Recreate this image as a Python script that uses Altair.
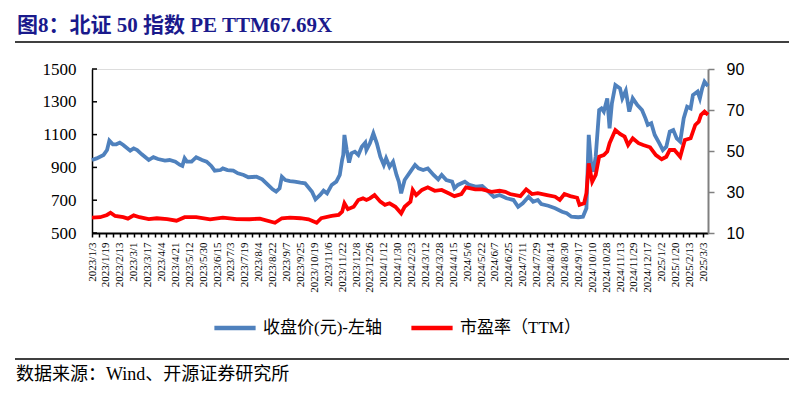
import json
import altair as alt
import pandas as pd

# ---- data (x = trading-day index since 2023/1/3) ----
close_idx = [0,4,10,13,15,18,21,24,27,33,36,39,43,49,53,57,63,67,72,76,78,80,82,86,90,95,99,103,106,111,113,117,122,126,131,135,142,147,152,156,159,162,164,167,171,175,180,184,190,193,197,200,203,207,211,214,216,217,218,220,222,224,227,230,233,236,237,240,243,246,249,252,254,257,260,263,265,267,270,275,279,282,286,290,295,299,302,306,311,313,316,322,326,332,337,341,347,352,358,364,368,372,377,381,385,388,394,400,406,410,414,420,424,427,429,431,433,435,438,440,442,445,447,449,452,456,458,461,464,467,471,475,478,480,483,486,490,493,496,499,502,505,508,511,514,517,519,523,525,527,529,532]
close_vals = [945,955,976,1006,1063,1041,1041,1051,1037,1002,1016,1006,980,945,962,951,941,945,935,915,909,955,935,935,962,945,935,909,880,884,894,884,880,864,854,840,843,827,793,766,752,772,843,823,817,813,807,803,752,705,732,758,742,793,813,854,945,976,1098,1006,929,986,996,976,1026,1051,1006,1047,1108,1047,965,915,955,904,935,854,813,742,823,874,915,894,884,894,854,827,854,823,813,772,793,813,793,782,787,762,721,732,712,701,660,681,721,691,701,677,666,651,630,620,599,596,599,651,1098,925,874,965,1250,1260,1240,1321,1138,1291,1402,1382,1321,1368,1240,1321,1280,1250,1199,1159,1169,1098,1047,1006,1026,1118,1128,1077,1057,1199,1270,1260,1341,1362,1321,1382,1423,1396]

pe_idx = [0,7,13,16,20,27,31,36,41,49,56,65,73,80,90,102,113,125,136,145,158,164,171,180,187,194,198,207,213,216,218,221,226,230,234,237,240,244,249,253,257,262,267,270,275,277,280,285,290,296,302,308,313,319,323,331,337,345,352,357,361,370,375,380,385,393,400,404,408,413,419,421,425,427,429,432,435,438,442,445,447,452,456,460,463,467,472,476,482,487,492,496,499,503,508,512,517,521,524,526,529,532]
pe_vals = [17.5,17.7,18.8,19.9,18.3,17.7,17.0,18.6,17.7,16.8,17.2,16.8,16.0,17.7,17.7,16.7,17.5,16.8,16.7,17.0,15.0,17.2,17.5,17.2,16.7,15.0,17.2,18.3,18.8,20.4,24.5,21.6,22.8,26.1,26.9,26.1,26.9,28.5,25.3,23.7,24.5,22.8,19.6,22.8,25.3,31.0,28.5,31.0,32.3,30.6,31.0,29.4,28.0,29.0,32.3,31.3,31.3,30.1,30.6,30.1,29.0,28.0,31.3,29.0,29.4,28.5,27.7,26.1,29.0,28.0,27.2,23.7,24.5,29.4,44.0,35.0,38.3,47.2,48.0,49.7,53.8,60.2,58.3,57.0,52.9,56.2,53.8,52.9,51.8,48.0,46.0,47.2,50.5,50.5,47.2,55.4,56.2,62.7,64.3,67.6,69.2,67.69]

x_labels = ["2023/1/3","2023/1/19","2023/2/13","2023/3/1","2023/3/17","2023/4/4","2023/4/21",
            "2023/5/12","2023/5/30","2023/6/15","2023/7/3","2023/7/19","2023/8/4","2023/8/22",
            "2023/9/7","2023/9/25","2023/10/19","2023/11/6","2023/11/22","2023/12/8","2023/12/26",
            "2024/1/12","2024/1/30","2024/2/23","2024/3/12","2024/3/28","2024/4/15","2024/5/6",
            "2024/5/22","2024/6/7","2024/6/25","2024/7/11","2024/7/29","2024/8/14","2024/8/30",
            "2024/9/17","2024/10/10","2024/10/28","2024/11/13","2024/11/29","2024/12/17",
            "2025/1/2","2025/1/20","2025/2/13","2025/3/3"]
label_step = 12
left_ticks = [500, 700, 900, 1100, 1300, 1500]
right_ticks = [10, 30, 50, 70, 90]

series_names = ["收盘价(元)-左轴", "市盈率（TTM）"]
series_colors = ["#4F81BD", "#FF0000"]

title_text = "图8：北证 50 指数 PE TTM67.69X"
source_text = "数据来源：Wind、开源证券研究所"

SERIF = "Liberation Serif, Noto Sans CJK SC"

close_df = pd.DataFrame({"idx": close_idx, "v": close_vals, "s": series_names[0]})
pe_df = pd.DataFrame({"idx": pe_idx, "v": pe_vals, "s": series_names[1]})
tick_df = pd.DataFrame({"t": left_ticks})

x_dom = [0, 532]
x_scale = alt.Scale(domain=x_dom, nice=False, zero=False)
label_expr = (
    f"datum.value % {label_step} == 0 ? "
    f"{json.dumps(x_labels, ensure_ascii=False)}[datum.value / {label_step}] : ''"
)
x_axis = alt.Axis(
    values=list(range(0, 529, 6)), labelExpr=label_expr, labelAngle=-90,
    labelFont=SERIF, labelFontSize=11, labelColor="#000000", labelPadding=5,
    labelOverlap=False, labelFlush=False, tickSize=4, tickColor="#000000",
    tickWidth=1.5, domainColor="#000000", domainWidth=2, grid=False, title=None,
)
color = alt.Color(
    "s:N",
    scale=alt.Scale(domain=series_names, range=series_colors),
    legend=alt.Legend(
        title=None, orient="none", legendX=120, legendY=236, direction="horizontal",
        symbolType="stroke", symbolSize=1700, symbolStrokeWidth=4.5,
        labelFont=SERIF, labelFontSize=17, labelColor="#000000", labelOffset=5,
        columnPadding=20, labelLimit=300,
    ),
)

left_scale = alt.Scale(domain=[500, 1500], nice=False, zero=False)
right_scale = alt.Scale(domain=[10, 90], nice=False, zero=False)

close_line = alt.Chart(close_df).mark_line(strokeWidth=3.8).encode(
    x=alt.X("idx:Q", scale=x_scale, axis=x_axis),
    y=alt.Y("v:Q", scale=left_scale, axis=alt.Axis(
        orient="left", values=left_ticks, format="d", ticks=False, labelFont=SERIF,
        labelFontSize=17, labelColor="#000000", labelPadding=16, domainColor="#000000",
        domainWidth=1.5, grid=False, title=None)),
    color=color,
)

left_tick_marks = alt.Chart(tick_df).mark_rule(color="#000000", strokeWidth=1.5).encode(
    y=alt.Y("t:Q", scale=left_scale, axis=None),
    x=alt.value(0), x2=alt.value(5),
)

pe_line = alt.Chart(pe_df).mark_line(strokeWidth=3.8).encode(
    x=alt.X("idx:Q", scale=x_scale, axis=x_axis),
    y=alt.Y("v:Q", scale=right_scale, axis=alt.Axis(
        orient="right", values=right_ticks, format="d", labelFont="Liberation Sans",
        labelFontSize=16, labelColor="#000000", labelPadding=12, tickSize=6,
        tickColor="#808080", tickWidth=1.5, domainColor="#808080", domainWidth=2,
        grid=False, title=None)),
    color=color,
)

one = pd.DataFrame({"a": [0]})
title_mark = alt.Chart(one).mark_text(
    text=title_text, font=SERIF, fontSize=21, fontWeight="bold", color="#1a1a8c",
    align="left", baseline="middle",
).encode(x=alt.value(-75), y=alt.value(-43))
source_mark = alt.Chart(one).mark_text(
    text=source_text, font=SERIF, fontSize=18, color="#000000",
    align="left", baseline="middle",
).encode(x=alt.value(-76), y=alt.value(306))
top_rule = alt.Chart(one).mark_rule(color="#000000", strokeWidth=1.5).encode(
    x=alt.value(-77), x2=alt.value(697), y=alt.value(-27))
bottom_rule = alt.Chart(one).mark_rule(color="#000000", strokeWidth=1.5).encode(
    x=alt.value(-77), x2=alt.value(697), y=alt.value(290))

chart = alt.layer(
    close_line, pe_line, left_tick_marks, title_mark, source_mark, top_rule, bottom_rule
).resolve_scale(y="independent").properties(
    width=616, height=164,
    autosize=alt.AutoSizeParams(type="none"),
    padding={"left": 84, "top": 61, "right": 81, "bottom": 158},
).configure_view(stroke=None).configure(background="#ffffff")

chart.save("out.html", embed_options={"renderer": "svg", "actions": False})
